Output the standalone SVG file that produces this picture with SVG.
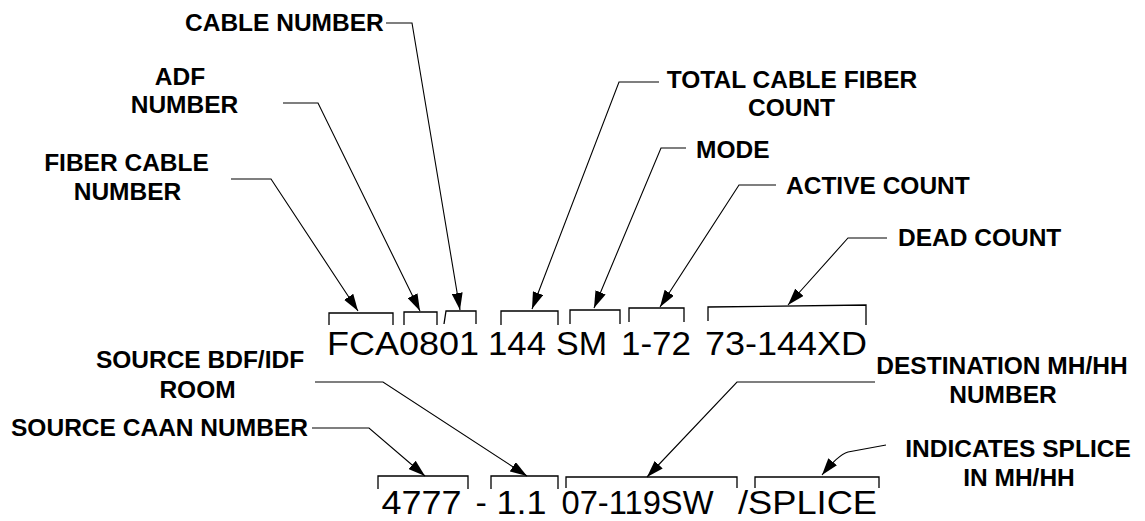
<svg xmlns="http://www.w3.org/2000/svg" width="1145" height="521" viewBox="0 0 1145 521">
<style>
.lbl{font-family:"Liberation Sans",Arial,sans-serif;font-weight:bold;font-size:24.5px;fill:#000}
.code{font-family:"Liberation Sans",Arial,sans-serif;font-size:34px;fill:#000}
.mid{text-anchor:middle}
.br{fill:none;stroke:#000;stroke-width:1.3}
.ln{fill:none;stroke:#000;stroke-width:1.1;marker-end:url(#ah)}
</style>
<defs>
<marker id="ah" viewBox="0 0 17 11" refX="17" refY="5.5" markerWidth="17" markerHeight="11" markerUnits="userSpaceOnUse" orient="auto">
<path d="M0,0 L17,5.5 L0,11 Z" fill="#000"/>
</marker>
</defs>
<rect width="1145" height="521" fill="#fff"/>

<g id="label-cable-number"><text class="lbl" x="185" y="31">CABLE NUMBER</text></g>
<g id="label-adf-number"><text class="lbl mid" x="180" y="85">ADF</text><text class="lbl mid" x="184.5" y="113">NUMBER</text></g>
<g id="label-fiber-cable-number"><text class="lbl mid" x="126.5" y="171">FIBER CABLE</text><text class="lbl mid" x="127.5" y="200">NUMBER</text></g>
<g id="label-total-count"><text class="lbl mid" x="792" y="88">TOTAL CABLE FIBER</text><text class="lbl mid" x="791.5" y="116">COUNT</text></g>
<g id="label-mode"><text class="lbl" x="696" y="158">MODE</text></g>
<g id="label-active-count"><text class="lbl" x="786" y="194">ACTIVE COUNT</text></g>
<g id="label-dead-count"><text class="lbl" x="898" y="246">DEAD COUNT</text></g>
<g id="label-source-room"><text class="lbl mid" x="200" y="368">SOURCE BDF/IDF</text><text class="lbl mid" x="197.5" y="398">ROOM</text></g>
<g id="label-source-caan"><text class="lbl" x="11" y="436" textLength="297" lengthAdjust="spacingAndGlyphs">SOURCE CAAN NUMBER</text></g>
<g id="label-destination"><text class="lbl mid" x="1002" y="374">DESTINATION MH/HH</text><text class="lbl mid" x="1003" y="403">NUMBER</text></g>
<g id="label-splice"><text class="lbl mid" x="1018" y="457">INDICATES SPLICE</text><text class="lbl mid" x="1019" y="486">IN MH/HH</text></g>

<g id="code-line-1">
<path class="br" d="M329,325 V313 H393 V325"/>
<path class="br" d="M404,325 V312 H437 V325"/>
<path class="br" d="M444,324 L446,311 H476 V324"/>
<path class="br" d="M501,325 V311 H558 V325"/>
<path class="br" d="M570,324 V310 H620 V324"/>
<path class="br" d="M629,322 V308 H684 V322"/>
<path class="br" d="M708,321 V307 L866,305 V325"/>
<text class="code" y="355"><tspan x="327" textLength="152" lengthAdjust="spacingAndGlyphs">FCA0801</tspan> <tspan x="488" textLength="58" lengthAdjust="spacingAndGlyphs">144</tspan> <tspan x="556">SM</tspan> <tspan x="621" textLength="70" lengthAdjust="spacingAndGlyphs">1-72</tspan> <tspan x="705" textLength="162" lengthAdjust="spacingAndGlyphs">73-144XD</tspan></text>
</g>

<g id="code-line-2">
<path class="br" d="M378,489 V476 H468 V489"/>
<path class="br" d="M491,489 V476 H558 V489"/>
<path class="br" d="M566,488 V477 H737 V488"/>
<path class="br" d="M755,488 V477 H879 V488"/>
<text class="code" y="514"><tspan x="381.5" textLength="80" lengthAdjust="spacingAndGlyphs">4777</tspan> <tspan x="475.5">-</tspan> <tspan x="496.5" textLength="50" lengthAdjust="spacingAndGlyphs">1.1</tspan> <tspan x="561.5" textLength="152" lengthAdjust="spacingAndGlyphs">07-119SW</tspan> <tspan x="738" textLength="139" lengthAdjust="spacingAndGlyphs">/SPLICE</tspan></text>
</g>

<g id="connectors">
<path class="ln" d="M386,23 L412,23 L460,310"/>
<path class="ln" d="M283,103 L318,103 L420,311"/>
<path class="ln" d="M231,179 L271,179 L358,311"/>
<path class="ln" d="M659,82 L619,82 L532,309"/>
<path class="ln" d="M686,148 L661,148 L594,308"/>
<path class="ln" d="M776,185 L739,185 L660,307"/>
<path class="ln" d="M887,238 L848,238 L788,305"/>
<path class="ln" d="M315,382 L383,382 L527,476"/>
<path class="ln" d="M312,428 L369,428 L425,476"/>
<path class="ln" d="M875,382 L737,382 L647,477"/>
<path class="ln" d="M886,445 L848,452 Q838,455 822,475"/>
</g>
</svg>
